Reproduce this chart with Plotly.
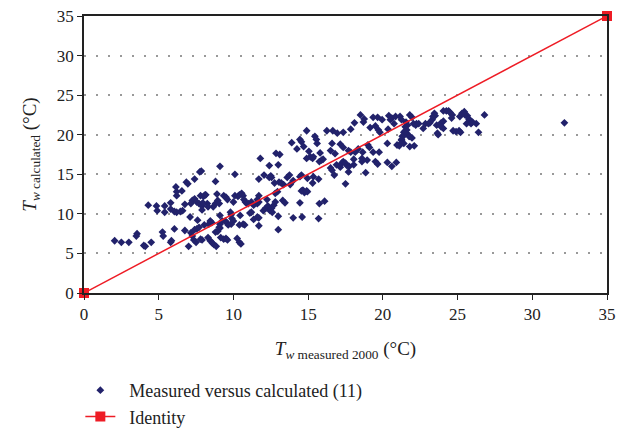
import plotly.graph_objects as go

# Measured vs calculated water temperature
t_measured = [
    2.05, 2.5, 3.0, 3.55, 3.5, 4.0, 4.1, 4.5, 4.3, 4.85, 4.9, 5.4, 5.4, 5.25, 5.3,
    5.8, 5.8, 6.05, 6.2, 6.45, 6.6, 6.15, 6.2, 6.2, 6.55, 6.85, 6.95, 7.4, 7.75,
    6.75, 7.15, 7.25, 7.4, 7.55, 7.8, 8.15, 7.7, 7.9, 8.25, 8.3, 7.1, 7.6, 6.05,
    6.75, 7.15, 7.25, 7.4, 7.55, 7.7, 7.0, 7.35, 7.5, 7.8, 5.8, 5.85, 8.05, 8.35,
    8.3,
    11.8, 12.85, 13.1, 13.0, 12.4, 9.1, 7.85, 10.1, 8.8, 11.7, 12.05, 12.4, 12.55,
    12.75, 13.05, 13.2, 13.35, 13.6, 13.75, 14.55, 14.95, 13.8, 14.0, 12.8, 12.95,
    14.55, 14.75, 14.95, 14.45, 14.0, 13.3, 13.45, 13.0, 13.0, 10.1, 10.3, 10.4,
    10.55, 10.65, 10.7, 10.8, 11.0, 11.2, 11.1, 11.2, 11.35, 11.6, 11.7, 11.6,
    11.7, 11.7, 12.0, 12.15, 12.3, 12.4, 12.45, 12.55, 12.6, 12.7, 12.8, 12.25,
    11.6, 11.7, 11.35, 10.9, 10.45, 10.65, 10.75, 10.4, 9.8, 9.85, 9.9, 10.0,
    9.85, 9.55, 9.65, 9.25, 9.45, 9.1, 9.1, 9.1, 8.8, 8.95, 9.05, 8.45, 8.55,
    7.9, 8.45, 8.6, 8.7, 8.85, 9.15, 9.35, 9.5, 9.6, 10.25, 10.4, 10.5, 8.0, 8.1,
    7.95, 7.9, 8.65, 8.8, 8.95, 9.05, 8.9, 9.35, 9.5, 9.6, 10.0, 13.9, 14.25, 12.5,
    14.9, 15.45, 15.55, 15.6, 14.45, 14.55, 14.7, 15.05, 15.15, 15.3, 15.35, 14.9,
    15.8, 15.9, 15.75, 16.0, 16.25, 16.65, 16.95, 17.35, 17.85, 18.1, 18.5, 18.75,
    18.7, 19.15, 19.35, 19.5, 19.65, 19.7, 19.8, 19.95, 20.4, 20.5, 20.6, 20.75,
    20.85, 21.15, 21.25, 20.35, 21.55, 21.65, 21.5, 21.6, 21.75, 16.6, 17.15,
    17.35, 17.7, 17.85, 16.5, 16.8, 16.9, 17.15, 17.25, 17.35, 17.5, 17.6, 17.75,
    17.7, 16.5, 16.6, 16.75, 17.5, 18.05, 18.05, 18.15, 18.35, 18.65, 18.6, 18.6,
    18.95, 18.85, 19.0, 19.1, 19.35, 19.75, 19.5, 19.65, 20.3, 20.3, 20.6, 20.9,
    20.95, 21.1, 21.25, 21.35, 21.4, 14.45, 14.65, 14.9, 15.3, 15.35, 15.7, 15.75,
    16.1, 14.6, 15.7,
    21.8, 21.95, 22.05, 21.5, 21.6, 21.4, 21.3, 21.25, 21.2, 21.8, 21.95, 21.8,
    22.1, 22.2, 22.25, 22.4, 22.7, 22.85, 23.05, 23.15, 23.3, 23.45, 23.35, 23.5,
    23.6, 23.65, 23.7, 23.9, 24.05, 24.05, 24.25, 24.4, 24.5, 24.65, 24.6, 24.7,
    24.9, 25.1, 25.2, 25.15, 25.3, 25.45, 25.5, 25.65, 25.75, 25.85, 25.6, 25.9,
    26.0, 26.25, 26.4, 26.8, 23.9, 24.05, 32.15,
]
t_calculated = [
    6.6, 6.4, 6.4, 7.5, 7.2, 6.0, 5.9, 6.4, 11.1, 11.0, 10.4, 11.0, 10.2, 7.7, 7.2,
    11.4, 10.6, 10.3, 10.2, 10.3, 10.4, 13.4, 12.8, 12.3, 12.9, 14.0, 13.8, 14.4, 15.3,
    11.2, 11.3, 11.7, 11.9, 11.5, 12.3, 12.4, 11.3, 11.0, 11.3, 10.9, 9.6, 9.2, 8.1,
    7.9, 7.6, 7.2, 8.0, 8.1, 8.3, 5.9, 6.7, 6.4, 6.8, 6.4, 6.6, 8.6, 8.7,
    7.0,
    17.0, 17.65, 17.5, 16.2, 16.1, 16.0, 15.4, 15.0, 14.1, 14.4, 14.9, 14.6, 14.6,
    13.9, 14.0, 13.9, 13.7, 14.6, 14.9, 14.9, 14.5, 13.7, 14.2, 12.6, 12.8,
    12.9, 12.7, 12.8, 11.4, 9.5, 11.7, 11.4, 9.7, 8.0, 12.3, 12.2, 12.4,
    12.6, 12.3, 11.8, 11.5, 11.3, 11.5, 10.1, 10.2, 9.3, 9.6, 9.5, 11.3,
    11.5, 8.5, 10.4, 10.7, 11.0, 10.8, 10.4, 10.7, 10.2, 11.1, 11.5, 11.8,
    11.8, 12.3, 11.1, 11.3, 9.8, 8.7, 8.6, 8.6, 10.2, 9.9, 9.4, 9.1,
    8.7, 8.9, 8.6, 9.1, 9.1, 9.8, 8.2, 8.7, 7.7, 7.8, 8.3, 9.1, 8.9,
    6.7, 6.6, 6.3, 6.1, 5.9, 7.0, 6.8, 6.9, 6.7, 6.9, 6.4, 6.2, 12.2, 12.4,
    11.4, 10.5, 10.9, 11.3, 11.7, 11.3, 12.5, 12.3, 12.1, 11.8, 11.5, 19.0, 18.2, 14.8,
    20.5, 19.8, 19.4, 18.9, 19.4, 19.1, 18.5, 17.9, 17.2, 17.0, 17.2, 17.0,
    17.7, 16.8, 16.6, 16.9, 20.5, 20.5, 20.2, 20.3, 20.7, 21.5, 22.5, 22.0,
    21.6, 20.9, 22.2, 21.1, 22.2, 20.6, 20.3, 21.9, 22.4, 21.9, 22.1, 21.4,
    22.3, 22.3, 21.9, 20.7, 21.6, 21.2, 20.5, 20.2, 19.8, 18.9, 18.8,
    18.4, 18.0, 17.8, 18.0, 17.6, 16.2, 15.9, 16.4, 16.6, 16.4, 16.1, 16.0,
    15.3, 15.8, 15.5, 14.9, 13.8, 16.9, 16.2, 17.8, 18.2, 17.8, 17.0, 16.6,
    16.8, 15.2, 18.7, 18.4, 17.8, 17.8, 16.6, 16.3, 18.9, 16.5, 16.0, 16.5,
    18.7, 18.6, 19.3, 19.8, 18.9, 14.7, 13.0, 12.9, 13.9, 14.7, 14.4, 11.3,
    11.6, 9.6, 9.4,
    22.5, 22.2, 21.4, 21.0, 20.6, 20.3, 19.8, 19.4, 18.9, 19.8, 19.6, 18.5,
    18.6, 21.2, 21.4, 21.4, 20.8, 21.4, 21.4, 21.5, 21.9, 22.7, 22.3, 22.4,
    21.2, 20.2, 20.0, 21.5, 21.7, 23.0, 23.0, 23.0, 22.8, 22.5, 22.1, 20.5,
    20.4, 20.5, 20.3, 22.3, 22.7, 22.9, 22.5, 22.4, 22.0, 21.8, 21.4, 21.4,
    21.6, 21.4, 20.3, 22.5, 21.0, 20.8, 21.5,
]
identity = [0, 35]
ticks = [0, 5, 10, 15, 20, 25, 30, 35]

font = "Liberation Serif, Times New Roman, serif"
pad = "\u00a0\u00a0"  # extra gap between legend symbol and text

fig = go.Figure()
fig.add_trace(go.Scatter(
    x=t_measured, y=t_calculated,
    mode="markers",
    name=pad + "Measured versus calculated (11)",
    marker=dict(symbol="diamond", size=6, color="#22226b"),
))
fig.add_trace(go.Scatter(
    x=identity, y=identity,
    mode="lines+markers",
    name=pad + "Identity",
    line=dict(color="#ee1c25", width=1.5),
    marker=dict(symbol="square", size=10, color="#ee1c25"),
    cliponaxis=False,
))

axis_common = dict(
    range=[0, 35], tickvals=ticks, showline=True, linecolor="#222",
    linewidth=1.5, mirror=True, ticks="outside", ticklen=5, tickcolor="#222",
    zeroline=False, automargin=False, ticklabeloverflow="allow",
    tickfont=dict(family=font, size=17, color="#222"),
)
fig.update_xaxes(
    **axis_common, showgrid=False,
    title=dict(text="<i>T</i><sub><i>w</i> measured 2000</sub> (°C)",
               font=dict(family=font, size=19, color="#222"), standoff=19),
)
fig.update_yaxes(
    **axis_common, showgrid=True, gridcolor="#999", gridwidth=2,
    griddash="2px,10px",
    title=dict(text="<i>T</i><sub><i>w</i> calculated</sub> (°C)",
               font=dict(family=font, size=19, color="#222"), standoff=15),
)
# page body adds an 8px offset, so margins are trimmed by that amount;
# the figure runs a little past the window so the legend never pushes margins
fig.update_layout(
    width=632, height=450,
    margin=dict(l=76, r=33, t=8, b=165),
    plot_bgcolor="white", paper_bgcolor="white",
    showlegend=True,
    legend=dict(x=-0.007, y=-0.285, xanchor="left", yanchor="top",
                font=dict(family=font, size=18, color="#222"),
                bgcolor="rgba(0,0,0,0)"),
)
fig.write_html("out.html")
